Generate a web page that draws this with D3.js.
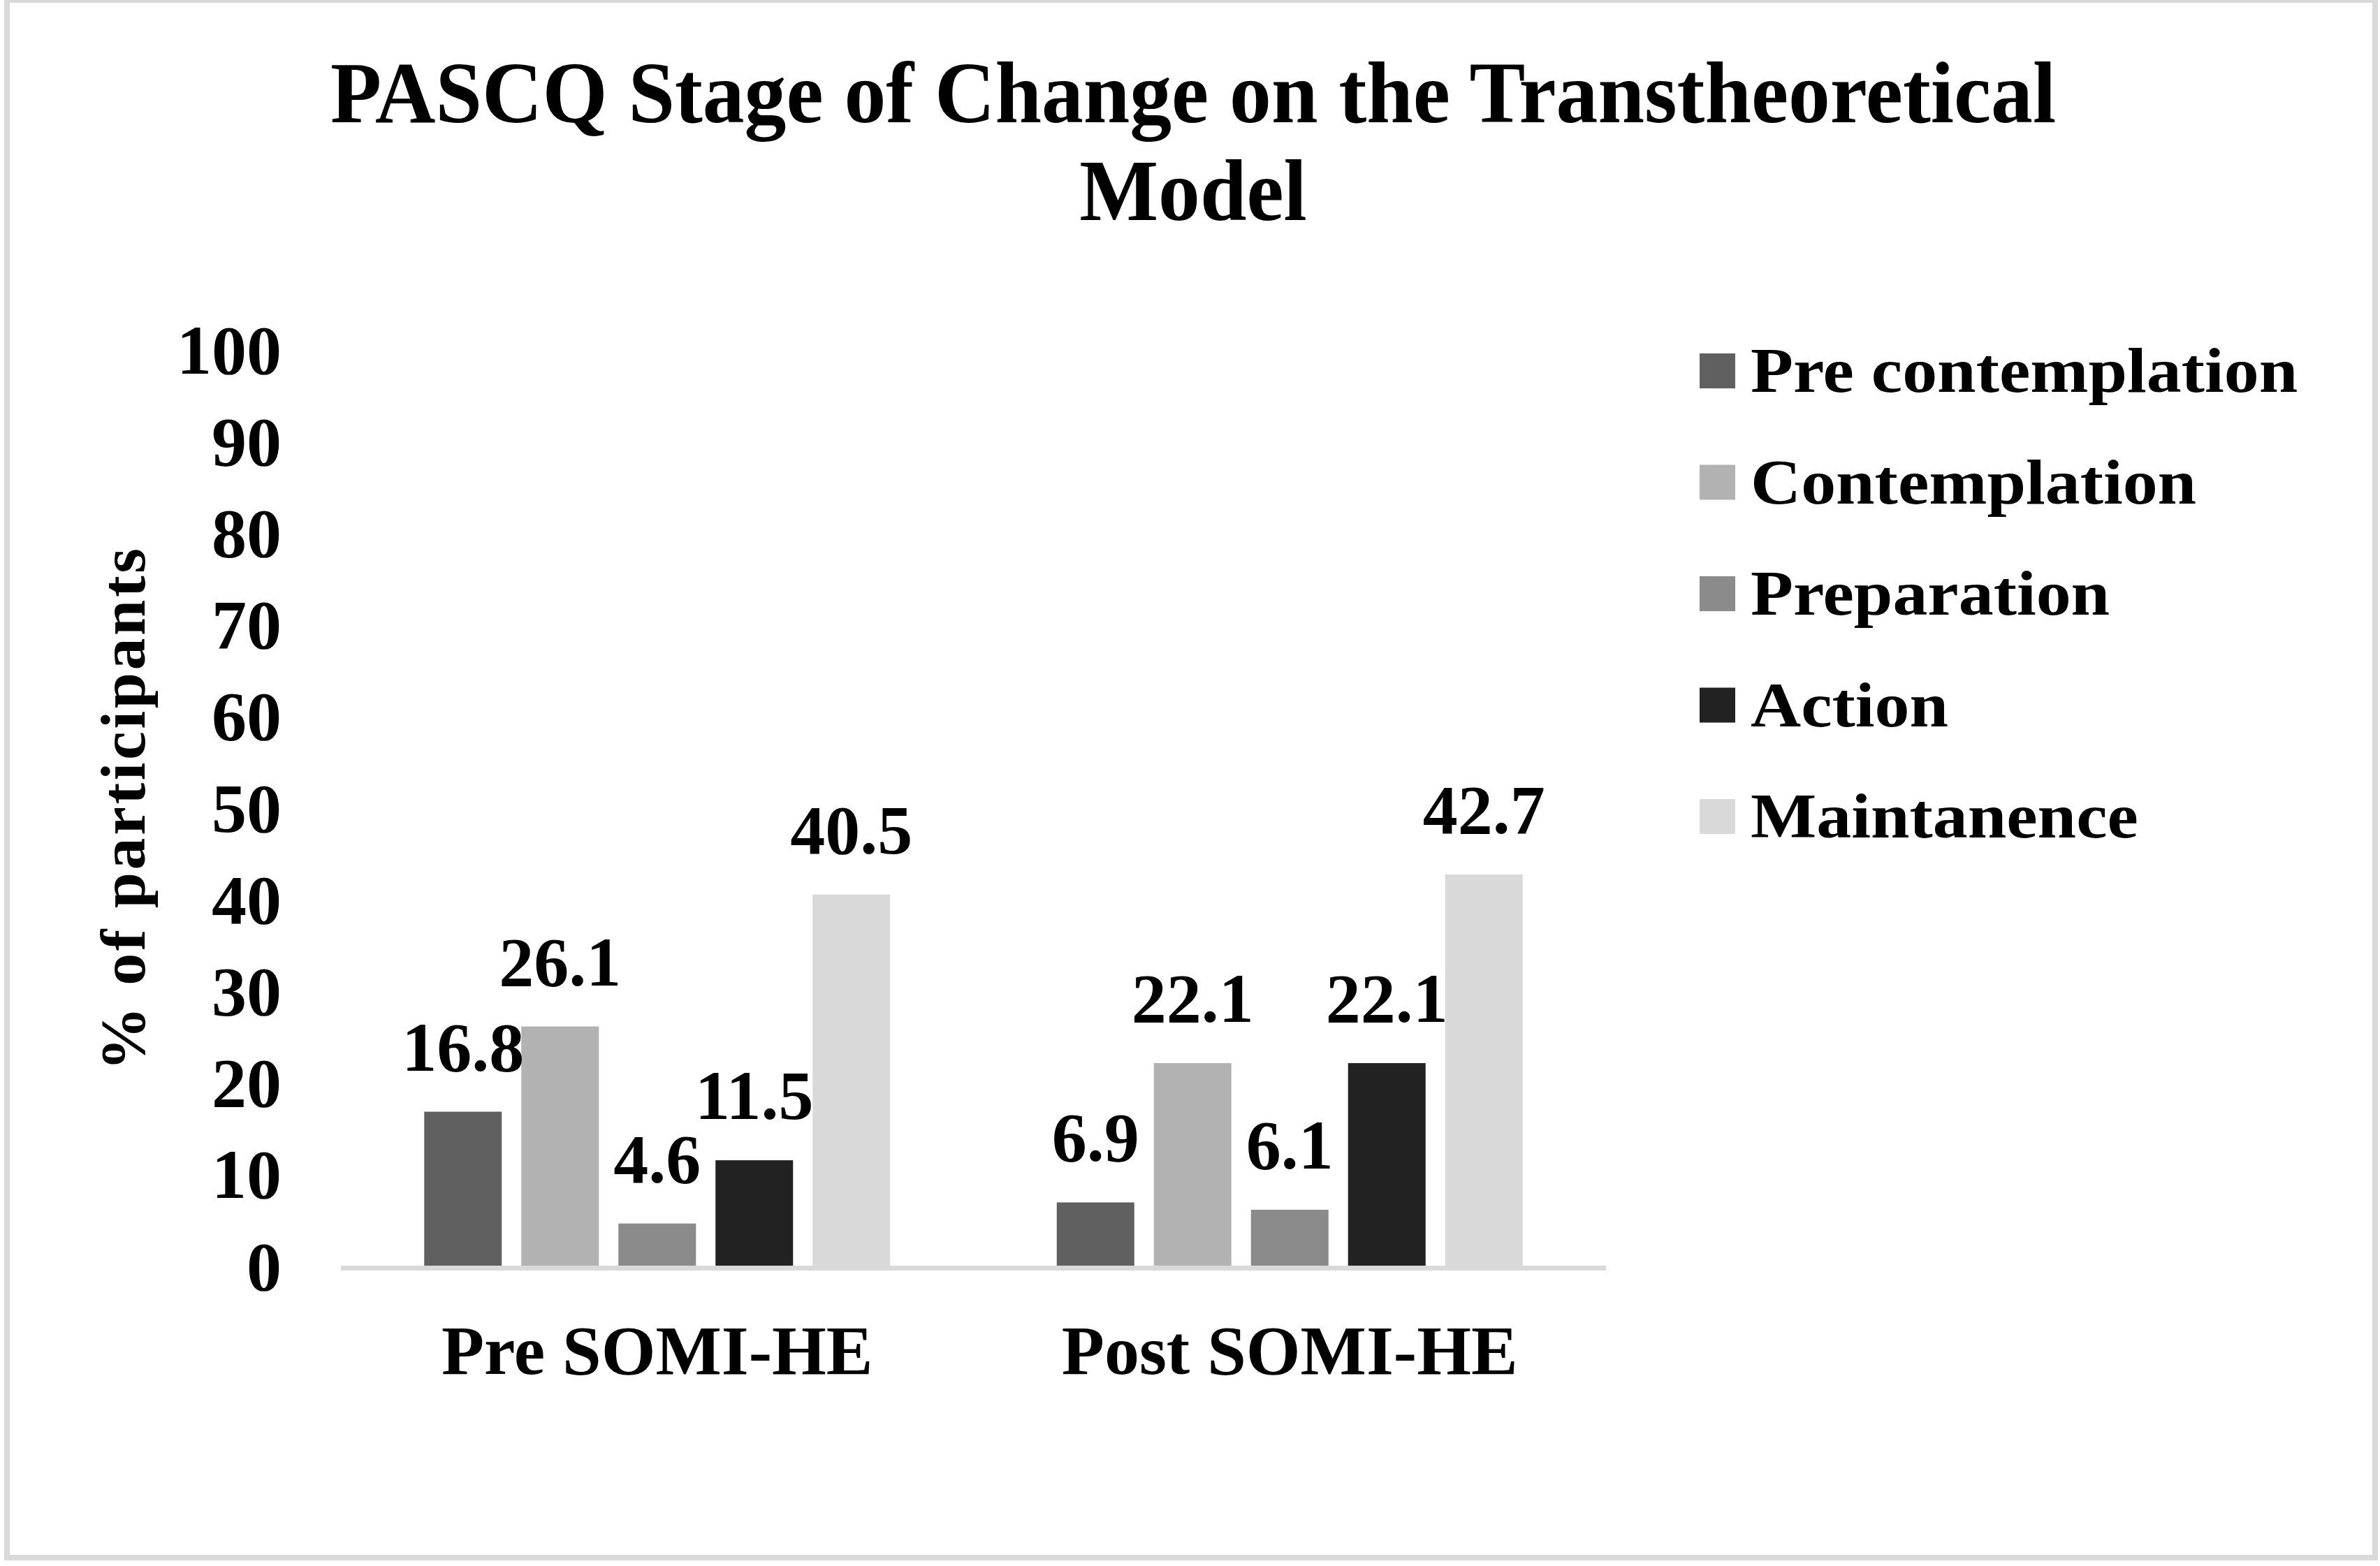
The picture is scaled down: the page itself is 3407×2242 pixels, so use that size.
<!DOCTYPE html>
<html>
<head>
<meta charset="utf-8">
<script src="https://cdn.jsdelivr.net/npm/d3@7"></script>
<style>
  body { margin: 0; background: #fff; }
  text { font-family: "Liberation Serif", "Times New Roman", serif; font-weight: bold; fill: #000; }
</style>
</head>
<body>
<div id="chart"></div>
<script>
var categories = ['Pre SOMI-HE', 'Post SOMI-HE'];
var stages = ['Pre contemplation', 'Contemplation', 'Preparation', 'Action', 'Maintanence'];
var preValues = [16.8, 26.1, 4.6, 11.5, 40.5];
var postValues = [6.9, 22.1, 6.1, 22.1, 42.7];
var yTicks = [0, 10, 20, 30, 40, 50, 60, 70, 80, 90, 100];
var stageColors = ['#606060', '#b2b2b2', '#8b8b8b', '#222222', '#d9d9d9'];

(function() {
  var width = 3407, height = 2242;
  var svg = d3.select('#chart').append('svg')
    .attr('width', width)
    .attr('height', height);

  // outer frame
  svg.append('rect')
    .attr('x', 10).attr('y', 0)
    .attr('width', 3390).attr('height', 2230)
    .attr('fill', '#fff')
    .attr('stroke', '#d9d9d9')
    .attr('stroke-width', 8);

  // title
  var title = svg.append('g').attr('transform', 'translate(1708,0) scale(0.965,1)');
  title.append('text')
    .attr('x', 0).attr('y', 175)
    .attr('text-anchor', 'middle')
    .attr('font-size', '124px')
    .text('PASCQ Stage of Change on the Transtheoretical');
  title.append('text')
    .attr('x', 0).attr('y', 315)
    .attr('text-anchor', 'middle')
    .attr('font-size', '124px')
    .text('Model');

  var values = [preValues, postValues];
  var rows = categories.map(function(c, i) {
    return { category: c, values: values[i] };
  });

  var x0 = d3.scaleBand()
    .domain(categories)
    .range([488, 2299]);
  var x1 = d3.scaleBand()
    .domain(stages)
    .range([0, x0.bandwidth()])
    .paddingInner(0.2014)
    .paddingOuter(0.858);
  var y = d3.scaleLinear()
    .domain([0, 100])
    .range([1812, 500]);
  var color = d3.scaleOrdinal().domain(stages).range(stageColors);

  // y axis labels
  var yAxis = svg.append('g')
    .attr('transform', 'translate(403,0)')
    .call(d3.axisLeft(y).tickValues(yTicks).tickSize(0).tickPadding(0));
  yAxis.select('.domain').remove();
  yAxis.selectAll('text')
    .attr('dy', '0.34em')
    .style('font-size', '100px')
    .style('font-family', '"Liberation Serif", "Times New Roman", serif')
    .style('font-weight', 'bold')
    .attr('fill', '#000');

  // bars
  var groups = svg.append('g').selectAll('g')
    .data(rows)
    .join('g')
    .attr('transform', function(d) { return 'translate(' + x0(d.category) + ',0)'; });

  groups.selectAll('rect')
    .data(function(d) { return d.values.map(function(v, i) { return { stage: stages[i], value: v }; }); })
    .join('rect')
    .attr('x', function(d) { return x1(d.stage); })
    .attr('y', function(d) { return y(d.value); })
    .attr('width', x1.bandwidth())
    .attr('height', function(d) { return y(0) - y(d.value); })
    .attr('fill', function(d) { return color(d.stage); });

  groups.selectAll('text')
    .data(function(d) { return d.values.map(function(v, i) { return { stage: stages[i], value: v }; }); })
    .join('text')
    .attr('x', function(d) { return x1(d.stage) + x1.bandwidth() / 2; })
    .attr('y', function(d) { return y(d.value) - 59; })
    .attr('text-anchor', 'middle')
    .attr('font-size', '100px')
    .text(function(d) { return d3.format('.1f')(d.value); });

  // baseline
  svg.append('line')
    .attr('x1', 488).attr('x2', 2299)
    .attr('y1', y(0) + 3.5).attr('y2', y(0) + 3.5)
    .attr('stroke', '#d9d9d9')
    .attr('stroke-width', 7);

  // x axis labels
  var xAxis = svg.append('g')
    .attr('transform', 'translate(0,' + y(0) + ')')
    .call(d3.axisBottom(x0).tickSize(0).tickPadding(84));
  xAxis.select('.domain').remove();
  xAxis.selectAll('text')
    .style('font-size', '100px')
    .style('font-family', '"Liberation Serif", "Times New Roman", serif')
    .style('font-weight', 'bold')
    .attr('fill', '#000');

  // y axis title
  svg.append('text')
    .attr('transform', 'translate(207,1159) rotate(-90)')
    .attr('text-anchor', 'middle')
    .attr('font-size', '92px')
    .attr('textLength', 748)
    .attr('lengthAdjust', 'spacing')
    .text('% of participants');

  // legend
  var legend = svg.append('g').selectAll('g')
    .data(stages)
    .join('g')
    .attr('transform', function(d, i) { return 'translate(2433,' + (531 + i * 159.5) + ')'; });
  legend.append('rect')
    .attr('x', 0).attr('y', -25)
    .attr('width', 51).attr('height', 50)
    .attr('fill', function(d) { return color(d); });
  legend.append('text')
    .attr('transform', 'translate(73,30) scale(1.11,1)')
    .attr('font-size', '90px')
    .text(function(d) { return d; });
})();
</script>
</body>
</html>
